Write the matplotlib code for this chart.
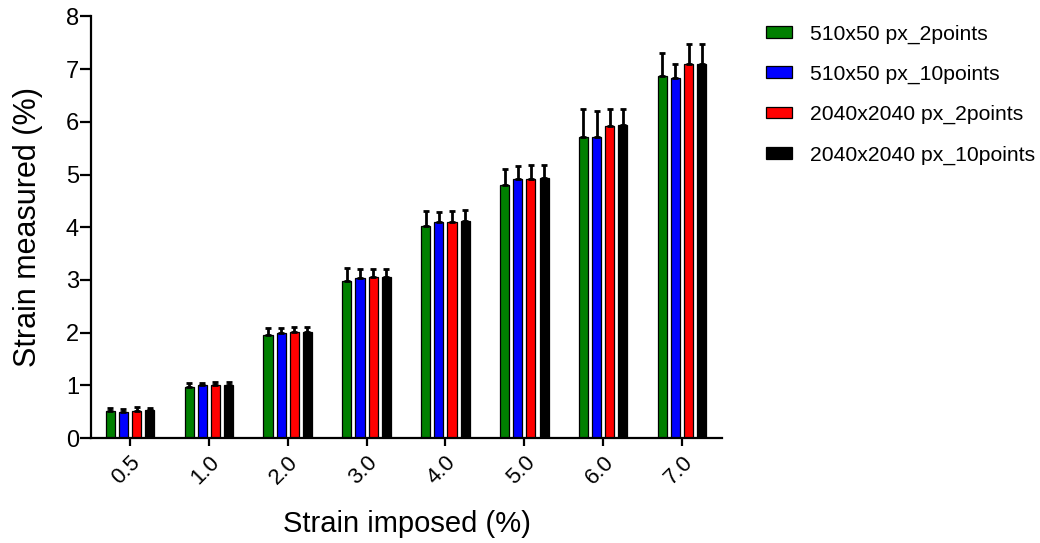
"""Grouped bar chart: measured vs imposed strain for four image settings."""

import matplotlib
matplotlib.use("Agg")
import matplotlib.pyplot as plt
import numpy as np

plt.rcParams["font.family"] = ["Liberation Sans", "DejaVu Sans"]

categories = ["0.5", "1.0", "2.0", "3.0", "4.0", "5.0", "6.0", "7.0"]
series_names = [
    "510x50 px_2points",
    "510x50 px_10points",
    "2040x2040 px_2points",
    "2040x2040 px_10points",
]
series_colors = ["#008000", "#0000FF", "#FF0000", "#000000"]

means_2pt_small = [0.51, 0.98, 1.96, 2.99, 4.02, 4.81, 5.72, 6.87]
means_10pt_small = [0.50, 1.00, 1.99, 3.04, 4.10, 4.91, 5.72, 6.83]
means_2pt_large = [0.52, 1.01, 2.01, 3.06, 4.10, 4.92, 5.92, 7.09]
means_10pt_large = [0.53, 1.01, 2.01, 3.06, 4.11, 4.93, 5.93, 7.10]

sd_2pt_small = [0.07, 0.07, 0.13, 0.23, 0.28, 0.30, 0.52, 0.44]
sd_10pt_small = [0.06, 0.05, 0.10, 0.16, 0.18, 0.25, 0.48, 0.27]
sd_2pt_large = [0.07, 0.05, 0.10, 0.14, 0.20, 0.26, 0.32, 0.39]
sd_10pt_large = [0.05, 0.05, 0.10, 0.15, 0.21, 0.25, 0.31, 0.38]

means = [means_2pt_small, means_10pt_small, means_2pt_large, means_10pt_large]
sds = [sd_2pt_small, sd_10pt_small, sd_2pt_large, sd_10pt_large]

fig = plt.figure(figsize=(10.4, 5.43), dpi=100)
ax = fig.add_axes([0.0875, 0.193, 0.6067, 0.777])

x = np.arange(len(categories))
step = 0.167
width = 0.115
for i, (name, color, m, s) in enumerate(zip(series_names, series_colors, means, sds)):
    pos = x + (i - 1.5) * step
    ax.bar(pos, m, width=width, color=color, edgecolor="black", linewidth=0.9,
           label=name, zorder=2)
    # upper error bars only
    ax.errorbar(pos, m, yerr=[np.zeros(len(s)), s], fmt="none", ecolor="black",
                elinewidth=2, capsize=2.5, capthick=2, zorder=3)

ax.set_xlim(-0.495, 7.507)
ax.set_ylim(0, 8)
ax.set_xticks(x)
ax.set_xticklabels(categories, rotation=45, ha="right", rotation_mode="anchor",
                   fontsize=16)
ax.set_yticks(range(9))
ax.set_yticklabels([str(v) for v in range(9)], fontsize=17)

for side in ("top", "right"):
    ax.spines[side].set_visible(False)
for side in ("left", "bottom"):
    ax.spines[side].set_linewidth(1.6)
ax.tick_params(axis="y", length=7.7, width=1.6, pad=1)
ax.tick_params(axis="x", length=5.5, width=1.6, pad=4)

ax.set_ylabel("Strain measured (%)", fontsize=22, labelpad=16)
ax.set_xlabel("Strain imposed (%)", fontsize=21, labelpad=16)

ax.legend(loc="upper left", bbox_to_anchor=(0.718, 0.99),
          bbox_transform=fig.transFigure, frameon=False, fontsize=15.2,
          handlelength=1.23, handleheight=0.47, handletextpad=0.86,
          labelspacing=1.0)

fig.savefig("out.png", dpi=100)
plt.close(fig)
